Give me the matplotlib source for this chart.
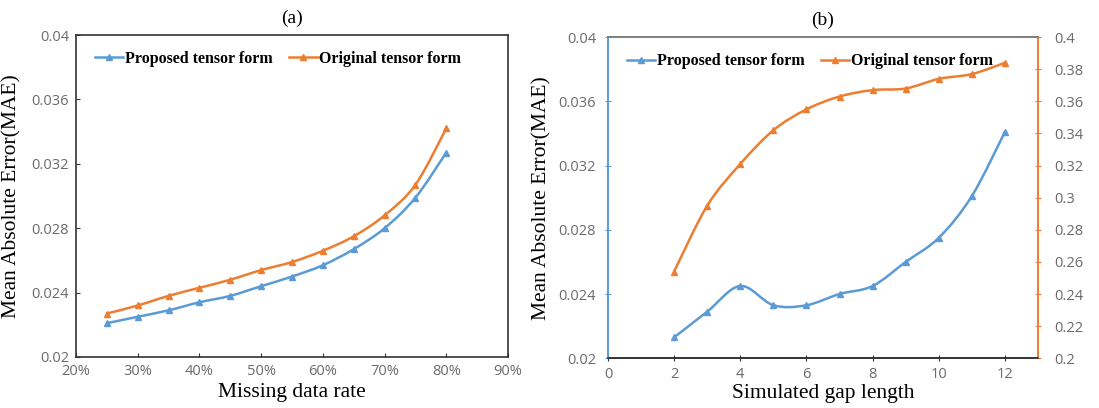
import numpy as np
import matplotlib.pyplot as plt
from matplotlib.path import Path
from matplotlib.patches import PathPatch
from matplotlib.lines import Line2D
from matplotlib.ticker import FuncFormatter

# (a) error vs missing data rate
missing_rate = [25, 30, 35, 40, 45, 50, 55, 60, 65, 70, 75, 80]
mae_proposed_a = [0.0221, 0.0225, 0.0229, 0.0234, 0.0238, 0.0244,
                  0.0250, 0.0257, 0.0267, 0.0280, 0.0299, 0.0327]
mae_original_a = [0.0227, 0.0232, 0.0238, 0.0243, 0.0248, 0.0254,
                  0.0259, 0.0266, 0.0275, 0.0288, 0.0307, 0.0342]

# (b) error vs simulated gap length (original form on the secondary axis)
gap_length = [2, 3, 4, 5, 6, 7, 8, 9, 10, 11, 12]
mae_proposed_b = [0.0213, 0.0229, 0.0245, 0.0233, 0.0233, 0.0240,
                  0.0245, 0.0260, 0.0275, 0.0301, 0.0341]
mae_original_b = [0.254, 0.295, 0.321, 0.342, 0.355, 0.363,
                  0.367, 0.368, 0.374, 0.377, 0.384]

BLUE = '#5b9bd5'
ORANGE = '#ed7d31'
TICK_GRAY = '#6b6b6b'
SERIF = 'Liberation Serif'
SANS = 'Open Sans'


def smooth_line(ax, xs, ys, color):
    """Excel-style smoothed line: cubic Bezier segments through the points."""
    x = np.asarray(xs, float)
    y = np.asarray(ys, float)
    n = len(x)
    verts = [(x[0], y[0])]
    codes = [Path.MOVETO]
    t = 1.0 / 6.0
    for i in range(n - 1):
        x0, y0 = (x[i - 1], y[i - 1]) if i > 0 else (x[i], y[i])
        x3, y3 = (x[i + 2], y[i + 2]) if i + 2 < n else (x[i + 1], y[i + 1])
        c1 = (x[i] + (x[i + 1] - x0) * t, y[i] + (y[i + 1] - y0) * t)
        c2 = (x[i + 1] - (x3 - x[i]) * t, y[i + 1] - (y3 - y[i]) * t)
        verts += [c1, c2, (x[i + 1], y[i + 1])]
        codes += [Path.CURVE4] * 3
    ax.add_patch(PathPatch(Path(verts, codes), fill=False, edgecolor=color, lw=1.8))
    ax.plot(x, y, ls='none', marker='^', ms=5, color=color)


def legend(ax):
    handles = [Line2D([], [], color=BLUE, lw=1.8, marker='^', ms=4.5),
               Line2D([], [], color=ORANGE, lw=1.8, marker='^', ms=4.5)]
    ax.legend(handles, ['Proposed tensor form', 'Original tensor form'],
              loc='upper left', bbox_to_anchor=(0.01, 0.995), ncol=2, frameon=False,
              prop={'family': SERIF, 'weight': 'bold', 'size': 11.5},
              handlelength=1.8, handletextpad=0.1, columnspacing=1.0)


def style_ticks(ax):
    for lab in ax.get_xticklabels() + ax.get_yticklabels():
        lab.set_family(SANS)
        lab.set_color(TICK_GRAY)
        lab.set_fontsize(10.5)


fig = plt.figure(figsize=(10.99, 4.08), dpi=100)

# ---- panel (a)
ax1 = fig.add_axes([0.0692, 0.125, 0.393, 0.789])
smooth_line(ax1, missing_rate, mae_proposed_a, BLUE)
smooth_line(ax1, missing_rate, mae_original_a, ORANGE)
ax1.set_xlim(20, 90)
ax1.set_ylim(0.02, 0.04)
ax1.set_xticks(range(20, 91, 10))
ax1.xaxis.set_major_formatter(FuncFormatter(lambda v, p: f'{v:.0f}%'))
ax1.set_yticks([0.02, 0.024, 0.028, 0.032, 0.036, 0.04])
ax1.set_yticklabels(['0.02', '0.024', '0.028', '0.032', '0.036', '0.04'])
ax1.tick_params(direction='in', length=3, color='#333333', pad=5)
for s in ax1.spines.values():
    s.set_color('#333333')
    s.set_linewidth(1.2)
ax1.set_xlabel('Missing data rate', family=SERIF, fontsize=15.5, labelpad=3)
ax1.set_ylabel('Mean Absolute Error(MAE)', family=SERIF, fontsize=15.5, labelpad=7)
ax1.set_title('(a)', family=SERIF, fontsize=14, pad=9)
style_ticks(ax1)
legend(ax1)

# ---- panel (b)
ax2 = fig.add_axes([0.5532, 0.122, 0.3913, 0.787])
ax3 = ax2.twinx()
smooth_line(ax2, gap_length, mae_proposed_b, BLUE)
smooth_line(ax3, gap_length, mae_original_b, ORANGE)
ax2.set_xlim(0, 13)
ax2.set_xticks(range(0, 13, 2))
ax2.set_ylim(0.02, 0.04)
ax2.set_yticks([0.02, 0.024, 0.028, 0.032, 0.036, 0.04])
ax2.set_yticklabels(['0.02', '0.024', '0.028', '0.032', '0.036', '0.04'])
ax3.set_ylim(0.2, 0.4)
ax3.set_yticks(np.arange(0.2, 0.401, 0.02))
ax3.set_yticklabels(['0.2', '0.22', '0.24', '0.26', '0.28', '0.3',
                     '0.32', '0.34', '0.36', '0.38', '0.4'])
ax2.tick_params(axis='x', direction='inout', length=5, color='#333333', pad=4)
ax2.tick_params(axis='y', direction='inout', length=5, color=BLUE, pad=6)
ax3.tick_params(axis='y', direction='inout', length=5, color=ORANGE, pad=9)
for ax in (ax2, ax3):
    ax.spines['top'].set_color('#7f7f7f')
    ax.spines['bottom'].set_color('#333333')
    ax.spines['left'].set_color(BLUE)
    ax.spines['right'].set_color(ORANGE)
    for s in ax.spines.values():
        s.set_linewidth(1.2)
ax2.set_xlabel('Simulated gap length', family=SERIF, fontsize=15.5, labelpad=1)
ax2.set_ylabel('Mean Absolute Error(MAE)', family=SERIF, fontsize=15.5, labelpad=5)
ax2.set_title('(b)', family=SERIF, fontsize=14, pad=9)
style_ticks(ax2)
style_ticks(ax3)
legend(ax3)

fig.savefig('out.png', dpi=100)
